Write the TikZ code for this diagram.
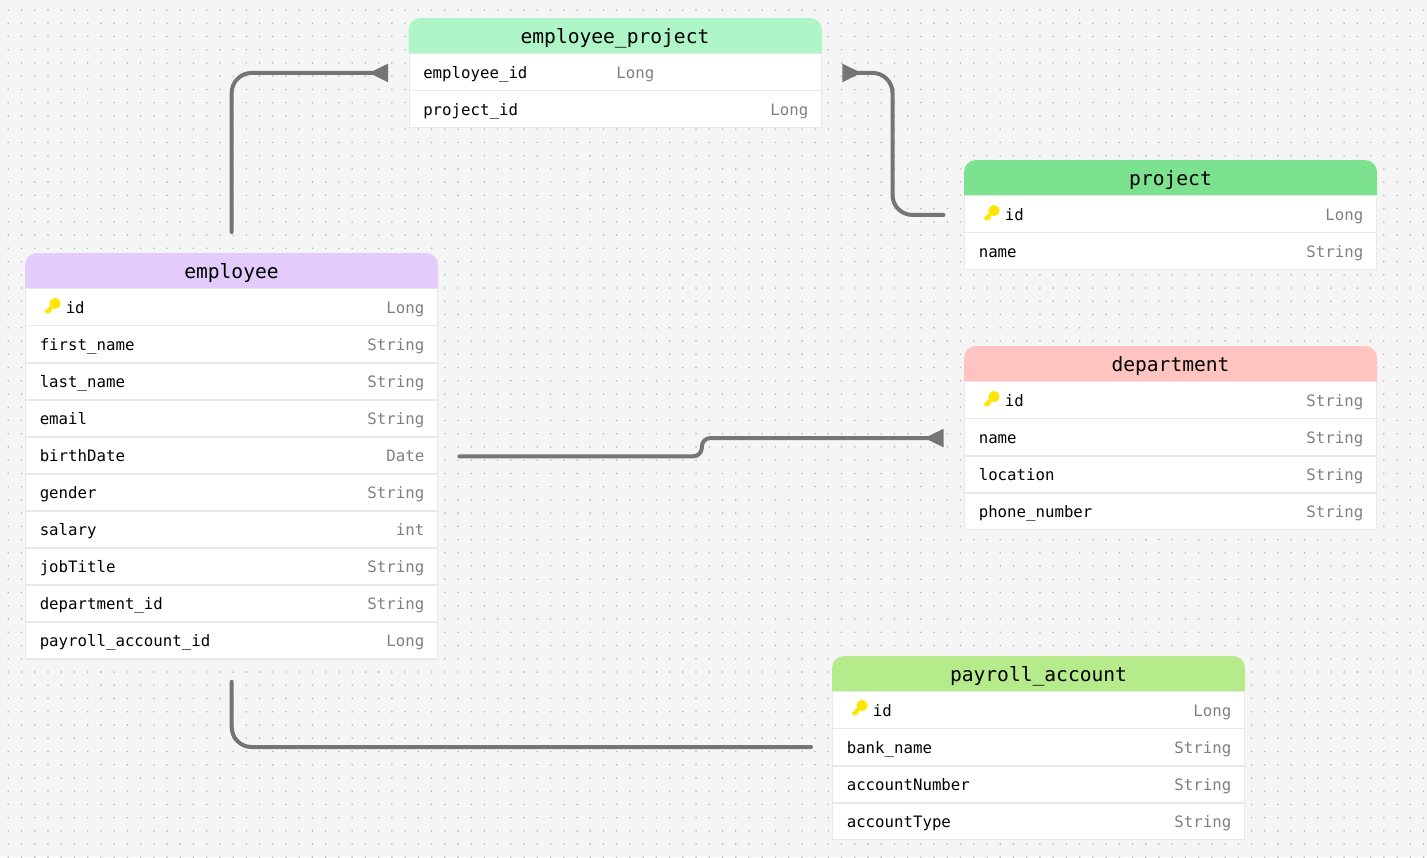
\documentclass[tikz,border=0pt]{standalone}
\usepackage{fontspec}
\setmonofont{DejaVu Sans Mono}
\usetikzlibrary{arrows.meta, calc}
\definecolor{canvasGrey}{HTML}{F5F5F5}
\definecolor{dotGrey}{HTML}{B8B8B8}
\definecolor{rowLine}{HTML}{E8E8E8}
\definecolor{typeGrey}{HTML}{808080}
\definecolor{linkGrey}{HTML}{757575}
\definecolor{headEmployee}{HTML}{E3CCFC}
\definecolor{headJoin}{HTML}{AEF5C7}
\definecolor{headProject}{HTML}{7CE28F}
\definecolor{headDepartment}{HTML}{FFC4BF}
\definecolor{headPayroll}{HTML}{B6EB8C}
\definecolor{keyYellow}{HTML}{FFE600}
\tikzset{
  headtext/.style={inner sep=0pt, font=\ttfamily\fontsize{14.7}{16}\selectfont, text=black, text height=10pt, text depth=3pt},
  rowbox/.style={anchor=north west, fill=white, draw=rowLine, line width=1pt, minimum width=309pt, minimum height=27.4pt, inner sep=0pt},
  rowname/.style={anchor=west, inner sep=0pt, font=\ttfamily\fontsize{11.8}{14}\selectfont, text=black, text height=8.5pt, text depth=2.5pt},
  rowtype/.style={rowname, anchor=east, text=typeGrey},
  link/.style={draw=linkGrey, line width=3pt, line cap=round, rounded corners=15pt},
  fkend/.style={-{Triangle[reversed, length=14.5pt, width=13pt]}},
  pics/keyicon/.style={code={
    \fill[keyYellow] (3.5,-3) circle (5.6);
    \draw[keyYellow, line width=2.7pt] (3.5,-3) -- (-5.5,6) (-3,3.5) -- (-1,5.5);
  }}
}
\begin{document}
\begin{tikzpicture}[x=0.75pt, y=-0.75pt]
  \useasboundingbox (0,0) rectangle (1427,857);
  \fill[canvasGrey] (0,0) rectangle (1427,857);

  % Dotted canvas
  \foreach \i in {0,...,107}
    \foreach \j in {0,...,64}
      \fill[dotGrey] ({8.3+13.226*\i},{10+13.24*\j}) circle (0.9);

  % Table employee
  \foreach \n/\fname/\ftype [count=\r from 0] in {id/{}/Long, first/first\_name/String, last/last\_name/String, email/email/String, birth/birthDate/Date, gender/gender/String, salary/salary/int, job/jobTitle/String, dept/department\_id/String, payroll/payroll\_account\_id/Long} {
    \node[rowbox] (employee \n) at (25,{288+37.1*\r}) {};
    \node[rowname] (employee \n name) at (39.5,{309+37.1*\r}) {\fname};
    \node[rowtype] (employee \n type) at (424.5,{309+37.1*\r}) {\ftype};
  }
  \fill[headEmployee] (25,288) {[rounded corners=9pt] -- (25,253) -- (438,253)} -- (438,288) -- cycle;
  \node[headtext] (employee head) at (231.5,273.5) {employee};

  % Table employee_project
  \foreach \n/\fname [count=\r from 0] in {emp/employee\_id, proj/project\_id} {
    \node[rowbox] (join \n) at (408.5,{53+37.1*\r}) {};
    \node[rowname] (join \n name) at (423,{74+37.1*\r}) {\fname};
  }
  \node[rowtype] (join emp type) at (654.5,74) {Long};
  \node[rowtype] (join proj type) at (808.5,111.1) {Long};
  \fill[headJoin] (408.5,53) {[rounded corners=9pt] -- (408.5,18) -- (822,18)} -- (822,53) -- cycle;
  \node[headtext] (join head) at (615,38.5) {employee\_project};

  % Table project
  \foreach \n/\fname/\ftype [count=\r from 0] in {id/{}/Long, name/name/String} {
    \node[rowbox] (project \n) at (964,{195+37.1*\r}) {};
    \node[rowname] (project \n name) at (978.5,{216+37.1*\r}) {\fname};
    \node[rowtype] (project \n type) at (1363.5,{216+37.1*\r}) {\ftype};
  }
  \fill[headProject] (964,195) {[rounded corners=9pt] -- (964,160) -- (1377,160)} -- (1377,195) -- cycle;
  \node[headtext] (project head) at (1170.5,180.5) {project};

  % Table department
  \foreach \n/\fname/\ftype [count=\r from 0] in {id/{}/String, name/name/String, location/location/String, phone/phone\_number/String} {
    \node[rowbox] (department \n) at (964,{381+37.1*\r}) {};
    \node[rowname] (department \n name) at (978.5,{402+37.1*\r}) {\fname};
    \node[rowtype] (department \n type) at (1363.5,{402+37.1*\r}) {\ftype};
  }
  \fill[headDepartment] (964,381) {[rounded corners=9pt] -- (964,346) -- (1377,346)} -- (1377,381) -- cycle;
  \node[headtext] (department head) at (1170.5,366.5) {department};

  % Table payroll_account
  \foreach \n/\fname/\ftype [count=\r from 0] in {id/{}/Long, bank/bank\_name/String, number/accountNumber/String, acctype/accountType/String} {
    \node[rowbox] (account \n) at (832,{691+37.1*\r}) {};
    \node[rowname] (account \n name) at (846.5,{712+37.1*\r}) {\fname};
    \node[rowtype] (account \n type) at (1231.5,{712+37.1*\r}) {\ftype};
  }
  \fill[headPayroll] (832,691) {[rounded corners=9pt] -- (832,656) -- (1245,656)} -- (1245,691) -- cycle;
  \node[headtext] (account head) at (1038.5,676.5) {payroll\_account};

  % Primary keys
  \pic at (51.5,306.5) {keyicon};
  \pic at (990.5,213.5) {keyicon};
  \pic at (990.5,399.5) {keyicon};
  \pic at (858.5,708.5) {keyicon};
  \node[rowname] (employee id label) at (65.5,309) {id};
  \node[rowname] (project id label) at (1004.5,216) {id};
  \node[rowname] (department id label) at (1004.5,402) {id};
  \node[rowname] (account id label) at (872.5,712) {id};

  % Connector ends
  \coordinate (employeeTop) at ($(employee id.north)+(0,-56)$);
  \coordinate (employeeBottom) at ($(employee payroll.south)+(0,22)$);
  \coordinate (employeeRight) at ($(employee birth.east)+(21,1)$);
  \coordinate (joinLeft) at ($(join emp.west)+(-20.5,1)$);
  \coordinate (joinRight) at ($(join emp.east)+(20.5,1)$);
  \coordinate (projectLeft) at ($(project id.west)+(-20.5,1)$);
  \coordinate (departmentLeft) at ($(department name.west)+(-20.5,1)$);
  \coordinate (accountLeft) at ($(account bank.west)+(-21,0)$);

  % Relationships
  \draw[link, fkend] (employeeTop) |- (joinLeft);
  \draw[link, fkend] (projectLeft) -- ++(-51,0) |- (joinRight);
  \draw[link, fkend, rounded corners=6.5pt] (employeeRight) -- ++(242.5,0) |- (departmentLeft);
  \draw[link] (employeeBottom) |- (accountLeft);
\end{tikzpicture}
\end{document}
